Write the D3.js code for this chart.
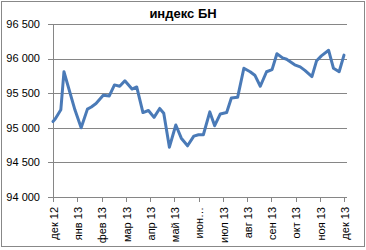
<!DOCTYPE html>
<html>
<head>
<meta charset="utf-8">
<script src="https://cdn.jsdelivr.net/npm/d3@7"></script>
<style>
  body { margin: 0; background: #fff; }
  text { font-family: "Liberation Sans", Arial, sans-serif; fill: #000; }
</style>
</head>
<body>
<svg width="366" height="250"></svg>
<script>
// index BN, weekly closes
var dates = ["2012-12-01","2012-12-04","2012-12-11","2012-12-15","2012-12-29",
  "2013-01-06","2013-01-14","2013-01-19","2013-01-25","2013-02-03","2013-02-10",
  "2013-02-16","2013-02-22","2013-02-28","2013-03-09","2013-03-15","2013-03-23",
  "2013-03-30","2013-04-06","2013-04-13","2013-04-18","2013-04-25","2013-05-03",
  "2013-05-10","2013-05-18","2013-05-26","2013-06-01","2013-06-07","2013-06-15",
  "2013-06-21","2013-06-28","2013-07-06","2013-07-12","2013-07-20","2013-07-28",
  "2013-08-05","2013-08-11","2013-08-18","2013-08-26","2013-09-02","2013-09-08",
  "2013-09-15","2013-09-20","2013-09-25","2013-09-30","2013-10-07","2013-10-13",
  "2013-10-22","2013-10-28","2013-11-03","2013-11-12","2013-11-18","2013-11-25",
  "2013-12-01"];
var values = [95090,95130,95260,95810,95260,
  95000,95270,95300,95350,95470,95460,
  95620,95600,95680,95560,95590,95220,
  95250,95150,95280,95210,94720,95040,
  94850,94740,94880,94900,94900,95230,
  95030,95200,95220,95430,95440,95860,
  95810,95760,95600,95810,95840,96070,
  96010,95990,95950,95910,95880,95830,
  95740,95970,96040,96120,95860,95810,
  96050];

var monthDates = ["2012-12-01","2013-01-01","2013-02-01","2013-03-01","2013-04-01",
  "2013-05-01","2013-06-01","2013-07-01","2013-08-01","2013-09-01","2013-10-01",
  "2013-11-01","2013-12-01"];
var monthLabels = ["дек 12","янв 13","фев 13","мар 13","апр 13","май 13","июн…",
  "июл 13","авг 13","сен 13","окт 13","ноя 13","дек 13"];
var yTicks = [94000,94500,95000,95500,96000,96500];

var svg = d3.select("svg");
var parse = d3.timeParse("%Y-%m-%d");
var fmt = d3.formatLocale({decimal: ",", thousands: " ", grouping: [3], currency: ["", ""]}).format(",");

var pLeft = 53, pRight = 347, pTop = 24, pBottom = 197;

var xm = d3.scaleLinear().domain([0, monthDates.length - 1]).range([pLeft, 344]);
var x = d3.scaleTime()
  .domain(monthDates.map(parse))
  .range(monthDates.map(function(d, i) { return xm(i) }));
var y = d3.scaleLinear().domain([94000, 96500]).range([pBottom, pTop]);

// outer frame
svg.append("rect")
  .attr("x", 1.5).attr("y", 1.5)
  .attr("width", 363).attr("height", 245)
  .attr("fill", "none").attr("stroke", "#888");

svg.append("text")
  .attr("x", 183).attr("y", 18)
  .attr("text-anchor", "middle")
  .style("font-size", "13px").style("font-weight", "bold")
  .text("индекс БН");

// grid + y labels
svg.selectAll("line.grid").data(yTicks).enter()
  .append("line").attr("class", "grid")
  .attr("x1", pLeft - 5).attr("x2", pRight)
  .attr("y1", function(d) { return Math.round(y(d)) + 0.5 })
  .attr("y2", function(d) { return Math.round(y(d)) + 0.5 })
  .attr("stroke", "#868686");

svg.selectAll("text.ylab").data(yTicks).enter()
  .append("text").attr("class", "ylab")
  .attr("x", 40)
  .attr("y", function(d) { return y(d) })
  .attr("dy", "0.35em")
  .attr("text-anchor", "end")
  .style("font-size", "11px")
  .text(function(d) { return fmt(d) });

// axes
svg.append("line")
  .attr("x1", pLeft + 0.5).attr("x2", pLeft + 0.5)
  .attr("y1", pTop).attr("y2", pBottom + 4)
  .attr("stroke", "#868686");

svg.selectAll("line.xtick").data(monthDates).enter()
  .append("line").attr("class", "xtick")
  .attr("x1", function(d) { return Math.round(x(parse(d))) + 0.5 })
  .attr("x2", function(d) { return Math.round(x(parse(d))) + 0.5 })
  .attr("y1", pBottom).attr("y2", pBottom + 5)
  .attr("stroke", "#868686");

svg.selectAll("text.xlab").data(monthDates).enter()
  .append("text").attr("class", "xlab")
  .attr("transform", function(d) { return "translate(" + (x(parse(d)) + 1) + "," + 207 + ") rotate(-90)" })
  .attr("dy", "0.35em")
  .attr("text-anchor", "end")
  .style("font-size", "11px")
  .text(function(d, i) { return monthLabels[i] });

// series
var line = d3.line()
  .x(function(d, i) { return x(parse(dates[i])) })
  .y(function(d) { return y(d) });

svg.append("path")
  .datum(values)
  .attr("d", line)
  .attr("fill", "none")
  .attr("stroke", "#4a7ab7")
  .attr("stroke-width", 3)
  .attr("stroke-linejoin", "round")
  .attr("stroke-linecap", "round");
</script>
</body>
</html>
